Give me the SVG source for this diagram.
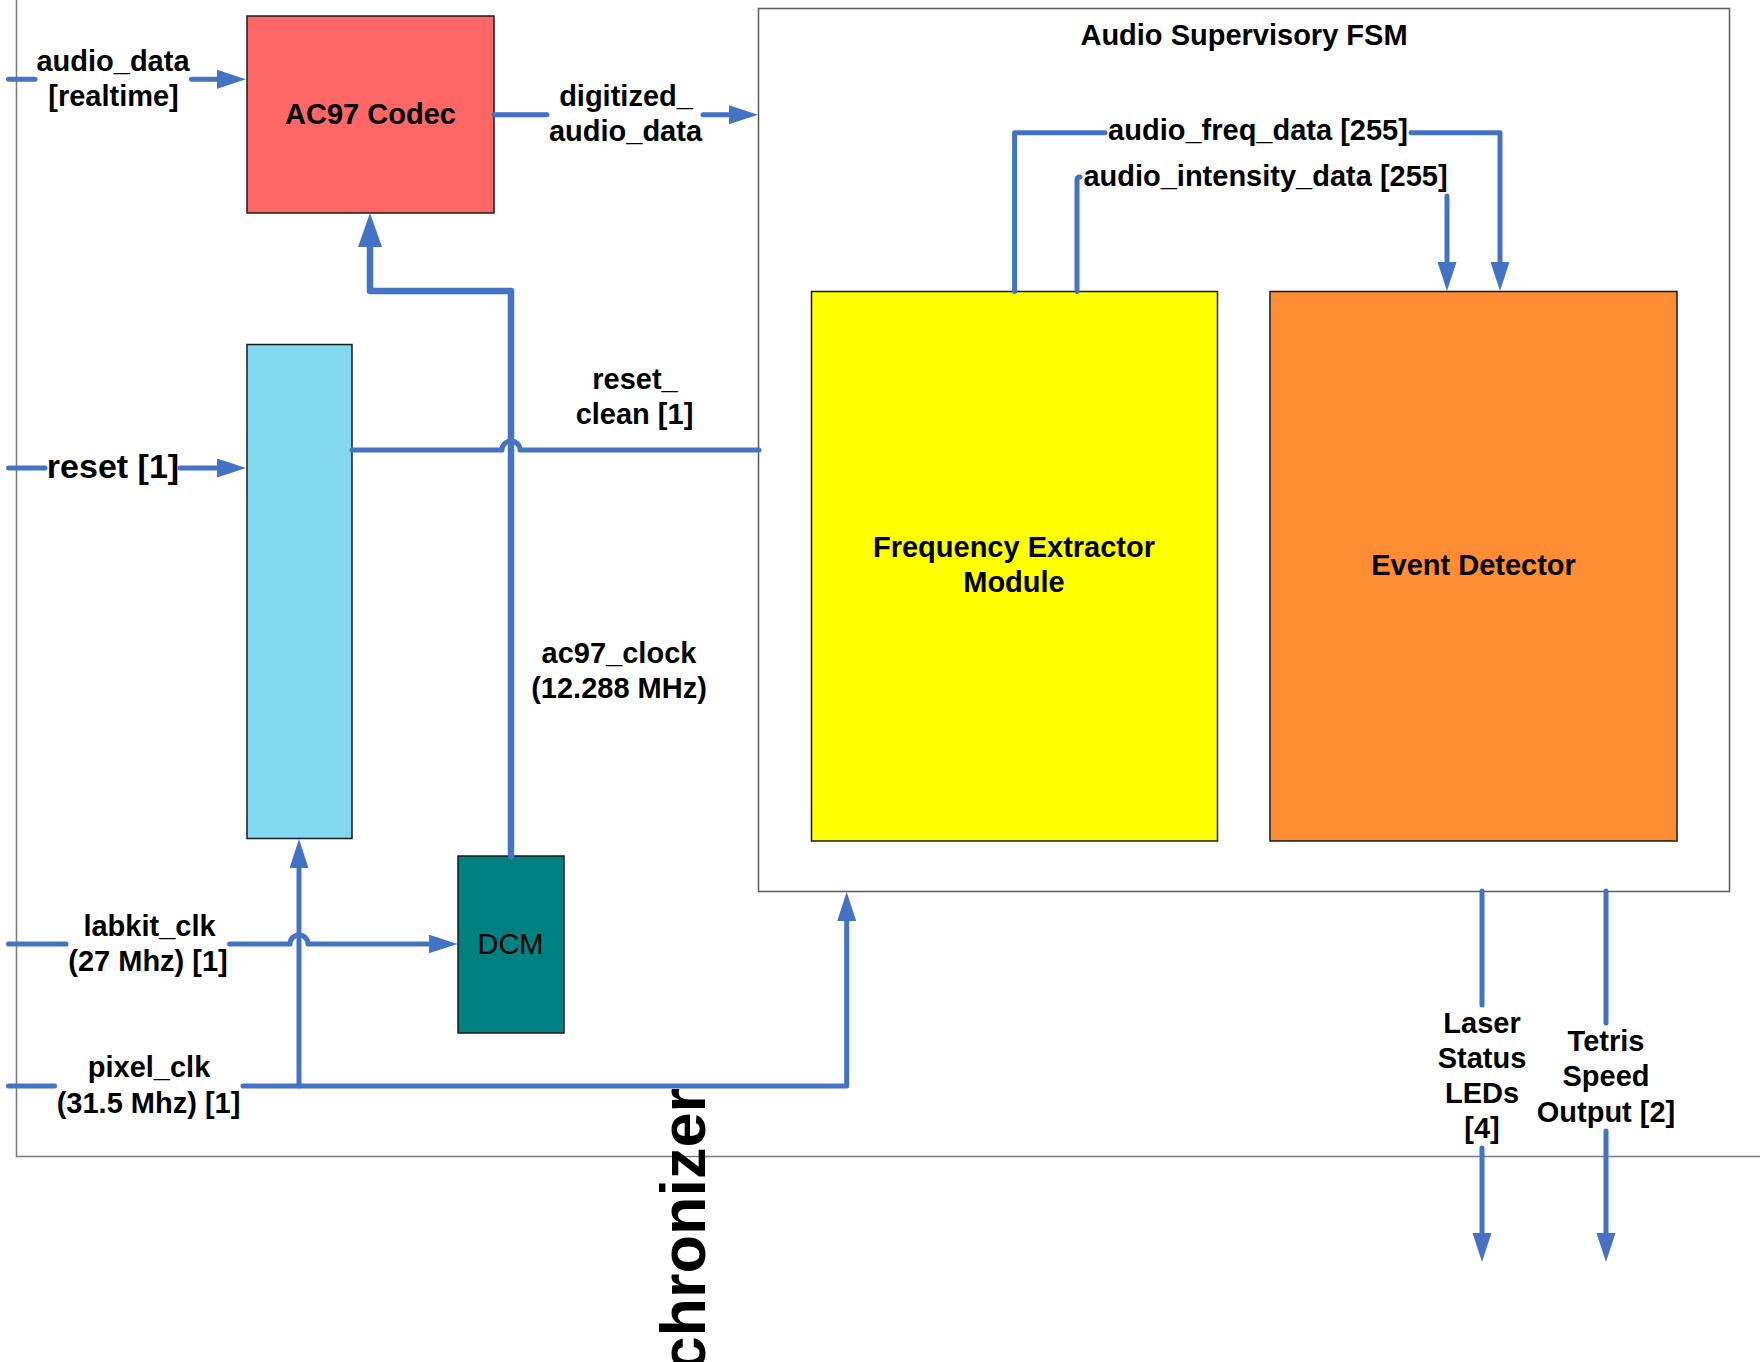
<svg xmlns="http://www.w3.org/2000/svg" width="1760" height="1362" viewBox="0 0 1760 1362">
  <style>
    .lbl { font-family: "Liberation Sans", Arial, sans-serif; font-weight: bold; font-size: 29px; fill: #000; text-anchor: middle; }
    .reg { font-weight: normal; }
    .wire { fill: none; stroke: #4472C4; stroke-width: 5; stroke-linecap: round; stroke-linejoin: round; }
    .thick { stroke-width: 6.5; }
    .box { stroke: #1a1a1a; stroke-width: 1.5; }
  </style>
  <defs>
    <marker id="arr" markerUnits="userSpaceOnUse" markerWidth="30" markerHeight="20" refX="19" refY="9.5" orient="auto">
      <path d="M0,0 L29,9.5 L0,19 z" fill="#4472C4"/>
    </marker>
    <marker id="arrBig" markerUnits="userSpaceOnUse" markerWidth="35" markerHeight="25" refX="22" refY="12" orient="auto">
      <path d="M0,0 L34,12 L0,24 z" fill="#4472C4"/>
    </marker>
  </defs>
  <rect width="1760" height="1362" fill="#ffffff"/>

  <g id="synchronizer">
    <rect x="16.5" y="-20" width="1800" height="1176.5" fill="none" stroke="#7a7a7a" stroke-width="1.5"/>
    <text class="lbl" style="font-size:63px;text-anchor:end" transform="translate(705,1088) rotate(-90)">Synchronizer</text>
  </g>

  <g id="ac97-codec">
    <rect class="box" x="247" y="16" width="247" height="197" fill="#FF6666"/>
    <text class="lbl" x="370.5" y="124">AC97 Codec</text>
  </g>

  <g id="reset-sync">
    <rect class="box" x="247" y="344.5" width="105" height="494" fill="#81D8EF"/>
  </g>

  <g id="dcm">
    <rect class="box" x="458" y="856" width="106" height="177" fill="#008080"/>
    <text class="lbl reg" x="510.5" y="954">DCM</text>
  </g>

  <g id="audio-fsm">
    <rect x="758.5" y="8.5" width="971" height="883" fill="#ffffff" stroke="#5a5a5a" stroke-width="1.5"/>
    <text class="lbl" x="1244" y="44.5">Audio Supervisory FSM</text>
  </g>

  <g id="freq-extractor">
    <rect class="box" x="811.5" y="291.5" width="406" height="549.5" fill="#FFFF00"/>
    <text class="lbl" x="1014" y="557">Frequency Extractor</text>
    <text class="lbl" x="1014" y="592">Module</text>
  </g>

  <g id="event-detector">
    <rect class="box" x="1270" y="291.5" width="407" height="549.5" fill="#FF8D33"/>
    <text class="lbl" x="1473.5" y="574.5">Event Detector</text>
  </g>

  <g id="connectors">
    <!-- audio_data -->
    <path class="wire" d="M8.5,79.3 H35"/>
    <path class="wire" d="M191.5,79.3 H236" marker-end="url(#arr)"/>
    <text class="lbl" x="113" y="70.5">audio_data</text>
    <text class="lbl" x="113.5" y="106">[realtime]</text>

    <!-- digitized_audio_data -->
    <path class="wire" d="M494,114.7 H547"/>
    <path class="wire" d="M703,114.7 H748" marker-end="url(#arr)"/>
    <text class="lbl" x="626" y="106">digitized_</text>
    <text class="lbl" x="625.5" y="140.5">audio_data</text>

    <!-- ac97_clock -->
    <path class="wire thick" d="M511,856 V291 H370 V225" marker-end="url(#arrBig)"/>
    <text class="lbl" x="619" y="662.5">ac97_clock</text>
    <text class="lbl" x="619" y="698">(12.288 MHz)</text>

    <!-- reset_clean -->
    <path class="wire" d="M352,450 H502 A9,9 0 0 1 520,450 H759"/>
    <text class="lbl" x="635" y="388.5">reset_</text>
    <text class="lbl" x="634.5" y="423.5">clean [1]</text>

    <!-- reset [1] -->
    <path class="wire" d="M8.5,468 H45"/>
    <path class="wire" d="M180,468 H236" marker-end="url(#arr)"/>
    <text class="lbl" style="font-size:34px" x="113" y="477.5">reset [1]</text>

    <!-- labkit_clk -->
    <path class="wire" d="M8.5,944 H66"/>
    <path class="wire" d="M229.6,944 H290 A9,9 0 0 1 308,944 H447.5" marker-end="url(#arr)"/>
    <text class="lbl" x="149.5" y="936">labkit_clk</text>
    <text class="lbl" x="148" y="971">(27 Mhz) [1]</text>

    <!-- pixel_clk -->
    <path class="wire" d="M8.5,1086 H54.5"/>
    <path class="wire" d="M243,1086 H846.7 V902" marker-end="url(#arr)"/>
    <path class="wire" d="M299,1086 V849" marker-end="url(#arr)"/>
    <text class="lbl" x="149" y="1076.5">pixel_clk</text>
    <text class="lbl" x="148.5" y="1112.5">(31.5 Mhz) [1]</text>

    <!-- audio_freq_data -->
    <path class="wire" d="M1014.6,291.5 V132.7 H1105"/>
    <path class="wire" d="M1411,132.7 H1500 V281" marker-end="url(#arr)"/>
    <text class="lbl" x="1258" y="140">audio_freq_data [255]</text>

    <!-- audio_intensity_data -->
    <path class="wire" d="M1077,291.5 V180 Q1077,177 1080,177"/>
    <path class="wire" d="M1447,196 V281" marker-end="url(#arr)"/>
    <text class="lbl" x="1265.5" y="185.5">audio_intensity_data [255]</text>

    <!-- Laser Status LEDs -->
    <path class="wire" d="M1482,891 V1005"/>
    <path class="wire" d="M1482,1148 V1252" marker-end="url(#arr)"/>
    <text class="lbl" x="1482" y="1032.5">Laser</text>
    <text class="lbl" x="1482" y="1068">Status</text>
    <text class="lbl" x="1482" y="1103">LEDs</text>
    <text class="lbl" x="1482" y="1138">[4]</text>

    <!-- Tetris Speed Output -->
    <path class="wire" d="M1606,891 V1023"/>
    <path class="wire" d="M1606,1131 V1252" marker-end="url(#arr)"/>
    <text class="lbl" x="1606" y="1051">Tetris</text>
    <text class="lbl" x="1606" y="1086">Speed</text>
    <text class="lbl" x="1606" y="1121.5">Output [2]</text>
  </g>
</svg>
